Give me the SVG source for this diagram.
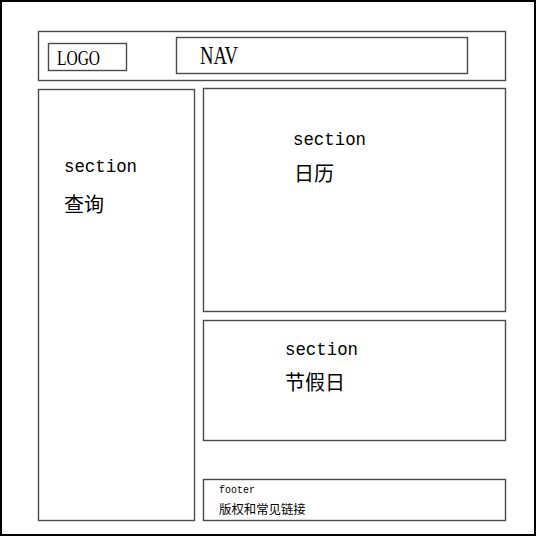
<svg xmlns="http://www.w3.org/2000/svg" width="536" height="537" viewBox="0 0 536 537">
<style>
.box{fill:none;stroke:#4a4a4a;stroke-width:1.4}
.mono{font-family:"Liberation Mono",monospace;fill:#000}
.serif{font-family:"Liberation Serif",serif;fill:#000}
.cjk{font-family:"Noto Sans CJK SC",sans-serif;fill:#000}
</style>
<rect x="0" y="0" width="536" height="537" fill="#fff"/>
<rect x="1" y="1" width="534" height="534" fill="none" stroke="#000" stroke-width="2"/>
<g id="header">
<rect class="box" x="38.5" y="31.5" width="467" height="49"/>
</g>
<g id="logo">
<rect class="box" x="48.5" y="43.5" width="78" height="27"/>
<text class="serif" x="57" y="64.5" font-size="21" textLength="43" lengthAdjust="spacingAndGlyphs">LOGO</text>
</g>
<g id="nav">
<rect class="box" x="176.5" y="37.5" width="291" height="36"/>
<text class="serif" x="200" y="63.5" font-size="25.5" textLength="38" lengthAdjust="spacingAndGlyphs">NAV</text>
</g>
<g id="search">
<rect class="box" x="38.5" y="89.5" width="156" height="431"/>
<text class="mono" x="64" y="171.5" font-size="18.5" textLength="73" lengthAdjust="spacingAndGlyphs">section</text>
<text class="cjk" x="64" y="211.5" font-size="20">查询</text>
</g>
<g id="calendar">
<rect class="box" x="203.5" y="88.5" width="302" height="223"/>
<text class="mono" x="293" y="145" font-size="18.5" textLength="73" lengthAdjust="spacingAndGlyphs">section</text>
<text class="cjk" x="294" y="181" font-size="20">日历</text>
</g>
<g id="holiday">
<rect class="box" x="203.5" y="320.5" width="302" height="120"/>
<text class="mono" x="285" y="355" font-size="18.5" textLength="73" lengthAdjust="spacingAndGlyphs">section</text>
<text class="cjk" x="285" y="390" font-size="20">节假日</text>
</g>
<g id="footer">
<rect class="box" x="203.5" y="479.5" width="302" height="41"/>
<text class="mono" x="219" y="492.5" font-size="10.6" textLength="36" lengthAdjust="spacingAndGlyphs">footer</text>
<text class="cjk" x="219" y="513.5" font-size="12.4">版权和常见链接</text>
</g>
<g id="connectors"></g>
</svg>
